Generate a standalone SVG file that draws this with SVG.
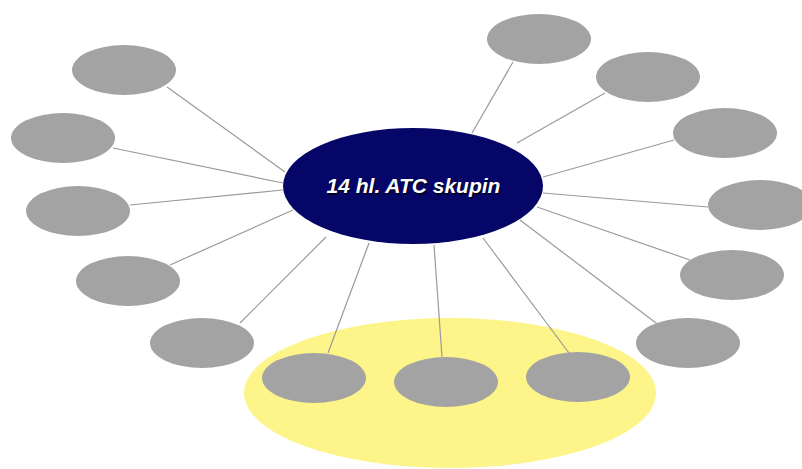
<svg xmlns="http://www.w3.org/2000/svg" width="802" height="469" viewBox="0 0 802 469">
<style>
.leaf{fill:#A3A3A3;}
.conn line{stroke:#9A9A9A;stroke-width:1.2;}
.lbl{font-family:"Liberation Sans",Arial,sans-serif;font-size:21px;font-weight:bold;font-style:italic;fill:#FFFFFF;text-anchor:middle;}
</style>
<rect width="802" height="469" fill="#FFFFFF"/>
<g id="highlight"><ellipse cx="450" cy="393" rx="206" ry="75" fill="#FDF58A"/></g>
<g id="connectors" class="conn">
<line x1="167" y1="87" x2="285" y2="172"/>
<line x1="113" y1="148" x2="283" y2="183"/>
<line x1="130" y1="205" x2="283" y2="190"/>
<line x1="170" y1="265" x2="293" y2="210"/>
<line x1="240" y1="323" x2="326" y2="237"/>
<line x1="328" y1="353" x2="369" y2="243"/>
<line x1="442" y1="357" x2="434" y2="245"/>
<line x1="569" y1="353" x2="483" y2="238"/>
<line x1="660" y1="326" x2="520" y2="220"/>
<line x1="690" y1="260" x2="537" y2="207"/>
<line x1="708" y1="207" x2="543" y2="193"/>
<line x1="674" y1="140" x2="543" y2="177"/>
<line x1="605" y1="93" x2="517" y2="143"/>
<line x1="513" y1="62" x2="472" y2="133"/>
</g>
<g id="n1"><ellipse class="leaf" cx="124" cy="70" rx="52" ry="25"/></g>
<g id="n2"><ellipse class="leaf" cx="63" cy="138" rx="52" ry="25"/></g>
<g id="n3"><ellipse class="leaf" cx="78" cy="211" rx="52" ry="25"/></g>
<g id="n4"><ellipse class="leaf" cx="128" cy="281" rx="52" ry="25"/></g>
<g id="n5"><ellipse class="leaf" cx="202" cy="343" rx="52" ry="25"/></g>
<g id="n6"><ellipse class="leaf" cx="314" cy="378" rx="52" ry="25"/></g>
<g id="n7"><ellipse class="leaf" cx="446" cy="382" rx="52" ry="25"/></g>
<g id="n8"><ellipse class="leaf" cx="578" cy="377" rx="52" ry="25"/></g>
<g id="n9"><ellipse class="leaf" cx="688" cy="343" rx="52" ry="25"/></g>
<g id="n10"><ellipse class="leaf" cx="732" cy="275" rx="52" ry="25"/></g>
<g id="n11"><ellipse class="leaf" cx="760" cy="205" rx="52" ry="25"/></g>
<g id="n12"><ellipse class="leaf" cx="725" cy="133" rx="52" ry="25"/></g>
<g id="n13"><ellipse class="leaf" cx="648" cy="77" rx="52" ry="25"/></g>
<g id="n14"><ellipse class="leaf" cx="539" cy="39" rx="52" ry="25"/></g>
<g id="center">
<ellipse cx="413" cy="186" rx="130" ry="58" fill="#060668"/>
<text class="lbl" x="414.5" y="194.5" fill="#000033" style="fill:#000022">14 hl. ATC skupin</text>
<text class="lbl" x="413.5" y="193">14 hl. ATC skupin</text>
</g>
</svg>
